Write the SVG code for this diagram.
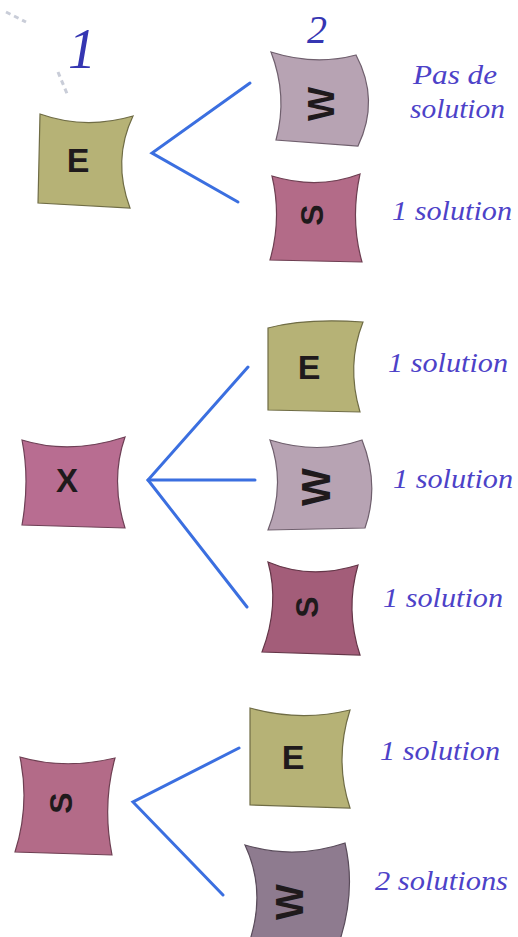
<svg xmlns="http://www.w3.org/2000/svg" width="518" height="937" viewBox="0 0 518 937">
<style>
.bg{fill:#ffffff}
.e{fill:#b6b276;stroke:#6f6c45;stroke-width:1.2}
.w{fill:#b7a3b3;stroke:#6f5f6d;stroke-width:1.2}
.wd{fill:#8e7b8f;stroke:#5a4c5b;stroke-width:1.2}
.s{fill:#b36b88;stroke:#6e3f52;stroke-width:1.2}
.sd{fill:#a35d79;stroke:#643648;stroke-width:1.2}
.x{fill:#b86d91;stroke:#6e4056;stroke-width:1.2}
.let{font-family:"Liberation Sans",Arial,sans-serif;font-weight:bold;fill:#1f1a1c;text-anchor:middle}
.lab{font-family:"Liberation Serif","Times New Roman",serif;font-style:italic;fill:#4d42c8;font-size:27px}
.num{font-family:"Liberation Serif","Times New Roman",serif;font-style:italic;fill:#3536b2}
.con{stroke:#3b6fe0;stroke-width:3;fill:none;stroke-linecap:round}
</style>
<rect class="bg" width="518" height="937"/>
<path d="M6,12 L26,22 M58,72 L68,96" stroke="#c9cdd8" stroke-width="3" stroke-dasharray="5 4" fill="none"/>
<text class="num" x="68" y="68" font-size="56">1</text>
<text class="num" x="307" y="43" font-size="40">2</text>

<g id="connectors">
<polyline class="con" points="250,83 152,153 238,202"/>
<polyline class="con" points="248,367 148,480 247,607"/>
<line class="con" x1="148" y1="480" x2="255" y2="480"/>
<polyline class="con" points="239,748 133,802 223,895"/>
</g>

<g id="n-e1"><path class="e" d="M40,114 Q85,130 133,116 Q112,160 130,208 L38,203 Z"/><text class="let" x="78" y="172" font-size="34">E</text></g>
<g id="n-w1"><path class="w" d="M271,52 Q315,66 356,55 Q380,100 358,146 L276,140 Q288,96 271,52 Z"/><text class="let" font-size="36" transform="translate(322,104) rotate(-90)" y="12">W</text></g>
<g id="n-s1"><path class="s" d="M272,176 Q318,190 360,174 Q350,220 362,262 L270,260 Q282,218 272,176 Z"/><text class="let" font-size="32" transform="translate(312,215) rotate(-90)" y="11">S</text></g>

<g id="n-x"><path class="x" d="M22,440 Q70,455 125,437 Q110,480 125,528 L22,525 Q30,480 22,440 Z"/><text class="let" x="67" y="492" font-size="33">X</text></g>
<g id="n-e2"><path class="e" d="M268,328 Q305,318 363,322 Q346,365 360,412 L268,410 Z"/><text class="let" x="309" y="379" font-size="34">E</text></g>
<g id="n-w2"><path class="w" d="M270,440 Q318,455 362,440 Q380,485 365,528 L268,530 Q286,485 270,440 Z"/><text class="let" font-size="40" transform="translate(316,487) rotate(-90)" y="14">W</text></g>
<g id="n-s2"><path class="sd" d="M268,562 Q310,580 358,565 Q345,610 360,655 L262,652 Q280,605 268,562 Z"/><text class="let" font-size="32" transform="translate(307,607) rotate(-90)" y="11">S</text></g>

<g id="n-s3"><path class="s" d="M20,757 Q65,770 115,758 Q102,805 112,855 L15,852 Q30,805 20,757 Z"/><text class="let" font-size="32" transform="translate(61,803) rotate(-90)" y="11">S</text></g>
<g id="n-e3"><path class="e" d="M250,708 Q300,722 350,710 Q334,760 350,808 L250,805 Z"/><text class="let" x="293" y="769" font-size="34">E</text></g>
<g id="n-w3"><path class="wd" d="M245,845 Q295,860 345,843 Q356,890 340,940 L250,940 Q266,890 245,845 Z"/><text class="let" font-size="38" transform="translate(290,902) rotate(-90)" y="13">W</text></g>

<g id="labels">
<text class="lab" x="413" y="84" font-size="25" textLength="84" lengthAdjust="spacingAndGlyphs">Pas de</text>
<text class="lab" x="410" y="118" font-size="25" textLength="95" lengthAdjust="spacingAndGlyphs">solution</text>
<text class="lab" x="392" y="220" textLength="120" lengthAdjust="spacingAndGlyphs">1 solution</text>
<text class="lab" x="388" y="372" textLength="120" lengthAdjust="spacingAndGlyphs">1 solution</text>
<text class="lab" x="393" y="488" textLength="120" lengthAdjust="spacingAndGlyphs">1 solution</text>
<text class="lab" x="383" y="607" textLength="120" lengthAdjust="spacingAndGlyphs">1 solution</text>
<text class="lab" x="380" y="760" textLength="120" lengthAdjust="spacingAndGlyphs">1 solution</text>
<text class="lab" x="375" y="890" textLength="133" lengthAdjust="spacingAndGlyphs">2 solutions</text>
</g>
</svg>
